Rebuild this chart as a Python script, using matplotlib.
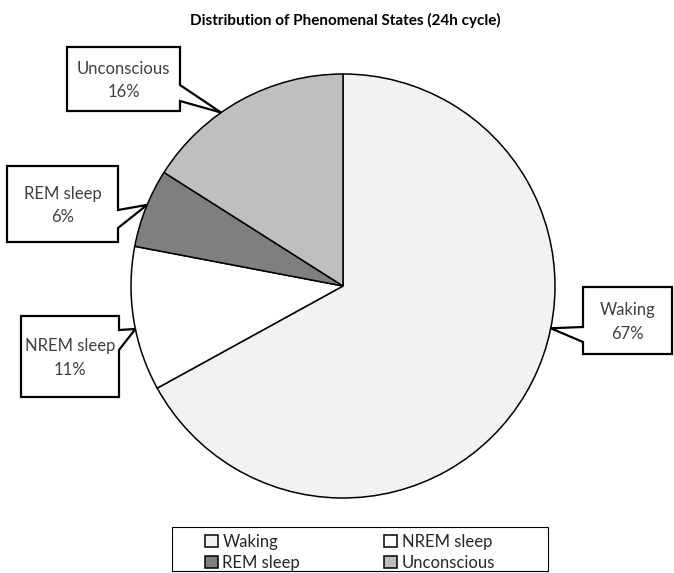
import matplotlib.pyplot as plt
from matplotlib.patches import Polygon, Rectangle
import numpy as np

# data
labels = ['Waking', 'NREM sleep', 'REM sleep', 'Unconscious']
shares = [67, 11, 6, 16]
colors = ['#f2f2f2', '#ffffff', '#7f7f7f', '#bfbfbf']

plt.rcParams['font.family'] = ['Lato', 'DejaVu Sans']

W, H = 674, 573
fig = plt.figure(figsize=(W / 100, H / 100), dpi=100)
ax = fig.add_axes([0, 0, 1, 1])

# pie in pixel coords (y up)
cx, cy, R = 343, H - 286, 212
wedges, _ = ax.pie(shares, colors=colors, startangle=90, counterclock=False,
                   center=(cx, cy), radius=R, frame=True,
                   wedgeprops=dict(edgecolor='black', linewidth=1.1))
ax.set_xlim(0, W)
ax.set_ylim(0, H)
ax.axis('off')

# callout layout (image pixel coords): box l, t, r, b, pointer side, base y0, y1, leader angle
callouts = {
    'Waking':      (583, 287, 672, 354, 'left', 327, 342, -11.5),
    'NREM sleep':  (21, 316, 119, 397, 'right', 330, 350, 191.7),
    'REM sleep':   (7, 166, 118, 242, 'right', 210, 228, 157.5),
    'Unconscious': (67, 47, 180, 111, 'right', 85, 101, 125.1),
}

for lab, val in zip(labels, shares):
    l, t, r, b, side, b0, b1, ang = callouts[lab]
    tip = (cx + R * np.cos(np.radians(ang)), cy + R * np.sin(np.radians(ang)))
    t, b, b0, b1 = H - t, H - b, H - b0, H - b1
    if side == 'right':
        verts = [(l, t), (r, t), (r, b0), tip, (r, b1), (r, b), (l, b)]
    else:
        verts = [(l, t), (r, t), (r, b), (l, b), (l, b1), tip, (l, b0)]
    ax.add_patch(Polygon(verts, closed=True, facecolor='white', edgecolor='black',
                         linewidth=1.6, joinstyle='miter', zorder=5))
    ax.text((l + r) / 2, (t + b) / 2 - 1.5, f'{lab}\n{val}%', ha='center', va='center',
            fontsize=12, color='#404040', linespacing=1.55, zorder=6)

# legend frame + legend (row-wise order like the original)
ax.add_patch(Rectangle((172, H - 571), 376, 44, facecolor='white', edgecolor='black',
                       linewidth=0.8, zorder=4))
order = [0, 2, 1, 3]
fig.legend([wedges[i] for i in order], [labels[i] for i in order], ncol=2,
           loc='upper left', bbox_to_anchor=(205 / W, 1 - 534 / H), frameon=False,
           borderaxespad=0, borderpad=0,
           handlelength=0.75, handleheight=0.75, handletextpad=0.3,
           columnspacing=5.05, labelspacing=0.28, fontsize=12,
           labelcolor='#262626')

fig.text(345 / W, 1 - 20 / H, 'Distribution of Phenomenal States (24h cycle)',
         ha='center', va='center', fontsize=11, fontweight='bold')

fig.savefig('out.png', dpi=100)
